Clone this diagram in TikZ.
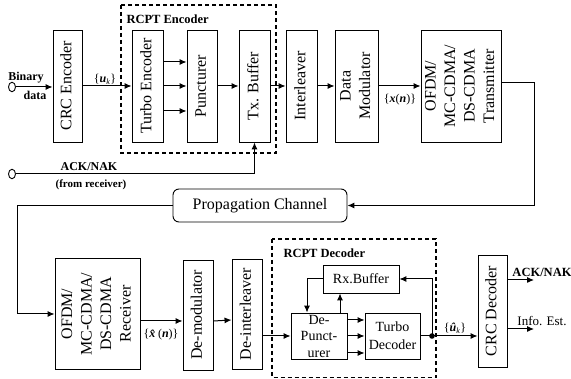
\documentclass[tikz,border=0pt]{standalone}
\usepackage{fontspec}
\setmainfont{Liberation Serif}
\usepackage{graphicx}
\usetikzlibrary{arrows.meta,shapes.geometric}
\newcommand{\vtext}[1]{\rotatebox{90}{\begin{tabular}{@{}c@{}}#1\end{tabular}}}

\begin{document}
\begin{tikzpicture}[x=1pt,y=-1pt,line width=1pt,>={Latex[length=7pt,width=6pt]},
  blk/.style={draw,line width=0.9pt,inner sep=0pt,font=\fontsize{16}{19.5}\selectfont},
  sblk/.style={blk,align=center,font=\fontsize{14}{16.5}\selectfont},
  grp/.style={draw,line width=1.2pt,dash pattern=on 4pt off 3pt},
  port/.style={draw,ellipse,line width=0.9pt,minimum width=7pt,minimum height=9.5pt,inner sep=0pt},
  lbl/.style={inner sep=0pt,font=\fontsize{12}{14}\selectfont\bfseries},
  sig/.style={inner sep=0pt,font=\fontsize{12}{14}\selectfont}]
\useasboundingbox (0,0) rectangle (571,379);

% transmitter chain
\node[port] (bin) at (12,87) {};
\node[blk,minimum width=29,minimum height=112] (crcenc) at (67.5,86) {\vtext{CRC Encoder}};
\node[blk,minimum width=31,minimum height=112] (turbo) at (147.5,86) {\vtext{Turbo Encoder}};
\node[blk,minimum width=30,minimum height=112] (punct) at (202,86) {\vtext{Puncturer}};
\node[blk,minimum width=31,minimum height=112] (txbuf) at (254.5,86) {\vtext{Tx. Buffer}};
\node[blk,minimum width=31,minimum height=112] (interl) at (301.5,86) {\vtext{Interleaver}};
\node[blk,minimum width=43,minimum height=112] (datamod) at (356.5,86) {\vtext{Data\\Modulator}};
\node[blk,minimum width=80,minimum height=112] (ofdmtx) at (461,86) {\vtext{OFDM/\\MC-CDMA/\\DS-CDMA\\Transmitter}};
\draw[grp] (121,5) rectangle (276,153);
\node[lbl,anchor=west,font=\fontsize{12.5}{14}\selectfont\bfseries] (enclbl) at (126,19) {RCPT Encoder};

\node[lbl] (binlbl) at (26,78) {Binary};
\node[lbl] (datalbl) at (35,95) {data};
\node[sig] (uk) at (105,79) {\{\textbf{\textit{u}}\textsubscript{\textit{k}}\}};
\node[sig] (xn) at (400,100) {\{\textbf{\textit{x}}(\textbf{\textit{n}})\}};

\draw[->] (bin) -- (bin -| crcenc.west);
\draw[->] (crcenc) -- (turbo);
\draw[->] ([yshift=24pt]turbo.east) -- ([yshift=24pt]punct.west);
\draw[->] (turbo) -- (punct);
\draw[->] ([yshift=-25pt]turbo.east) -- ([yshift=-25pt]punct.west);
\draw[->] (punct) -- (txbuf);
\draw[->] (txbuf) -- (interl);
\draw[->] (interl) -- (datamod);
\draw[->] (datamod) -- (ofdmtx);

% feedback into the tx buffer
\node[port] (ackin) at (12,174) {};
\node[lbl] (acklbl) at (89,167) {ACK/NAK};
\node[lbl,font=\fontsize{11}{12}\selectfont\bfseries] (fromlbl) at (91,185) {(from receiver)};
\draw[->] (ackin) -| (txbuf.south);

% channel
\node[blk,rounded corners=6pt,minimum width=174,minimum height=33] (chan) at (260,205.5) {Propagation Channel};
\draw[->] ([yshift=3pt]ofdmtx.east) -- ++(33,0) |- (chan.east);

% receiver chain
\node[blk,minimum width=85,minimum height=111] (ofdmrx) at (97.5,314) {\vtext{OFDM/\\MC-CDMA/\\DS-CDMA\\Receiver}};
\node[blk,minimum width=30,minimum height=110] (demod) at (198,315) {\vtext{De-modulator}};
\node[blk,minimum width=30,minimum height=110] (deint) at (247,314) {\vtext{De-interleaver}};
\node[sblk,minimum width=76,minimum height=28] (rxbuf) at (361,279) {Rx.Buffer};
\node[sblk,minimum width=56,minimum height=46] (depunct) at (319,336) {De-\\Punct-\\urer};
\node[sblk,minimum width=55,minimum height=46,font=\fontsize{14}{18}\selectfont] (turbodec) at (392.5,336) {Turbo\\Decoder};
\node[blk,minimum width=29,minimum height=112] (crcdec) at (492.5,311) {\vtext{CRC Decoder}};
\draw[grp] (272,239) rectangle (436,377.5);
\node[lbl,anchor=west,font=\fontsize{12.5}{14}\selectfont\bfseries] (declbl) at (283,253) {RCPT Decoder};

\draw[->] (chan.west) -- ++(-155,0) |- (ofdmrx.west);

\node[sig] (xhat) at (161,335) {\{\textbf{\textit{x̂}}(\textbf{\textit{n}})\}};
\node[sig] (uhat) at (455,328) {\{\textbf{\textit{û}}\textsubscript{\textit{k}}\}};

\draw[->] ([yshift=-7pt]ofdmrx.east) -- ([yshift=-6pt]demod.west);
\draw[->] ([yshift=-6pt]demod.east) -- ([yshift=-6pt]deint.west);
\draw[->] (deint.east |- depunct.west) -- (depunct.west);
\draw[->] ([yshift=16pt]depunct.east) -- ([yshift=16pt]turbodec.west);
\draw[->] (depunct) -- (turbodec);
\draw[->] ([yshift=-17pt]depunct.east) -- ([yshift=-17pt]turbodec.west);

\coordinate (dot) at (432,336);
\fill (dot) circle (2.8);
\draw (turbodec.east) -- (dot);
\draw[->] (dot) -- (dot -| crcdec.west);
\draw[->] (dot) |- (rxbuf.east);
\draw[->] (rxbuf.west) -| ([xshift=-12pt]depunct.north);
\draw[->] ([xshift=21pt]depunct.north) -- ([xshift=21pt]depunct.north |- rxbuf.south);

% outputs
\coordinate (ackout) at (534,280);
\coordinate (infoout) at (534,329);
\draw[->] (crcdec.east |- ackout) -- (ackout);
\draw[->] (crcdec.east |- infoout) -- (infoout);
\node[lbl,font=\fontsize{12.5}{14}\selectfont\bfseries] (ackoutlbl) at (542,272) {ACK/NAK};
\node[sig,font=\fontsize{13}{15}\selectfont] (infolbl) at (542,321) {Info. Est.};
\end{tikzpicture}
\end{document}
